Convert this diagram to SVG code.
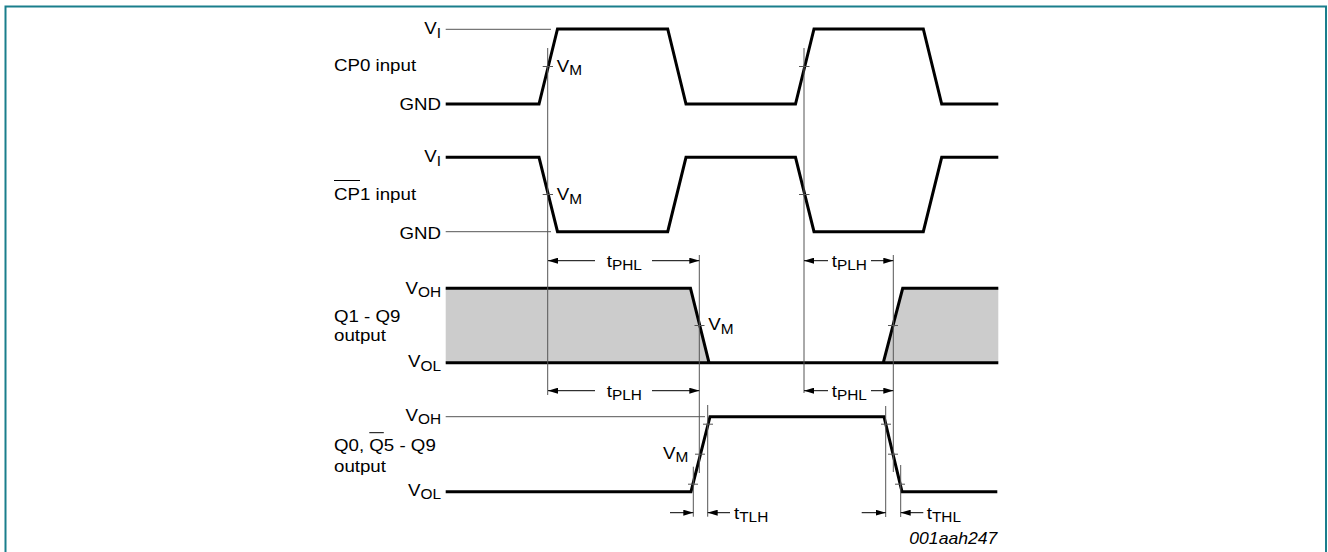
<svg xmlns="http://www.w3.org/2000/svg" width="1328" height="552" viewBox="0 0 1328 552">
<style>
.frame{fill:#fff;stroke:#1a7e8c;stroke-width:2}
.w{fill:none;stroke:#000;stroke-width:3;stroke-linejoin:miter}
.thin{fill:none;stroke:#555;stroke-width:1}
.fill{fill:#cccccc;stroke:none}
.t{font-family:"Liberation Sans",Arial,sans-serif;font-size:17px;fill:#000}
.s{font-size:14px}
.it{font-style:italic;font-size:16px}
.arr{fill:none;stroke:#000;stroke-width:1}
</style>
<defs>
<marker id="ah" markerWidth="10" markerHeight="6" refX="10" refY="3" orient="auto" markerUnits="userSpaceOnUse"><path d="M0,0 L10,3 L0,6 z" fill="#000"/></marker>
</defs>
<rect class="frame" x="5.5" y="6.5" width="1320.5" height="560"/>

<g id="cp0">
<path class="thin" d="M445.7,29.3 H551"/>
<path class="w" d="M445.7,104 H539 L557.5,29 H667.7 L686,104 H795.5 L814,29 H923.3 L941.7,104 H998.3"/>
<path class="thin" d="M542.7,66.5 H553 M799,66.5 H809.5"/>
<text class="t" text-anchor="end" transform="translate(441,34) scale(1.1,1)">V<tspan class="s" dy="3.5">I</tspan></text>
<text class="t" transform="translate(334,71) scale(1.1,1)">CP0 input</text>
<text class="t" text-anchor="end" transform="translate(441,110) scale(1.1,1)">GND</text>
<text class="t" transform="translate(556.7,71.5) scale(1.1,1)">V<tspan class="s" dy="3.5">M</tspan></text>
</g>

<g id="cp1">
<path class="thin" d="M445.7,231.7 H551"/>
<path class="w" d="M445.7,157.3 H539 L557.5,231.7 H667.7 L686,157.3 H795.5 L814,231.7 H923.3 L941.7,157.3 H998.3"/>
<path class="thin" d="M542.7,194.5 H553 M799,194.5 H809.5"/>
<text class="t" text-anchor="end" transform="translate(441,162) scale(1.1,1)">V<tspan class="s" dy="3.5">I</tspan></text>
<text class="t" transform="translate(334,199.5) scale(1.1,1)">CP1 input</text>
<path class="arr" d="M334,180.5 H360"/>
<text class="t" text-anchor="end" transform="translate(441,238.5) scale(1.1,1)">GND</text>
<text class="t" transform="translate(556.7,200) scale(1.1,1)">V<tspan class="s" dy="3.5">M</tspan></text>
</g>

<g id="q1q9">
<path class="fill" d="M445.7,288.3 H690.5 L709,362.7 H445.7 Z M902.7,288.3 H998.3 V362.7 H883.3 Z"/>
<path class="w" d="M445.7,288.3 H690.5 L709,362.7 M445.7,362.7 H998.3 M883.3,362.7 L902.7,288.3 H998.3"/>
<path class="thin" d="M694.5,325.5 H704.5 M888,325.5 H898"/>
<text class="t" text-anchor="end" transform="translate(441,293.5) scale(1.1,1)">V<tspan class="s" dy="3.5">OH</tspan></text>
<text class="t" transform="translate(334,321.5) scale(1.1,1)">Q1 - Q9</text>
<text class="t" transform="translate(334,340.5) scale(1.1,1)">output</text>
<text class="t" text-anchor="end" transform="translate(441,367) scale(1.1,1)">V<tspan class="s" dy="3.5">OL</tspan></text>
<text class="t" transform="translate(708.3,330) scale(1.1,1)">V<tspan class="s" dy="3.5">M</tspan></text>
</g>

<g id="q0q5">
<path class="thin" d="M445.7,416.7 H705"/>
<path class="w" d="M445.7,491.7 H691 L710,416.7 H884 L902,491.7 H997.3"/>
<path class="thin" d="M703,424.2 H713 M695,454.2 H705 M688,484.2 H698 M881,424.2 H891 M888,454.2 H898 M895,484.2 H905"/>
<text class="t" text-anchor="end" transform="translate(441,420.5) scale(1.1,1)">V<tspan class="s" dy="3.5">OH</tspan></text>
<text class="t" transform="translate(334,451) scale(1.1,1)">Q0, Q5 - Q9</text>
<path class="arr" d="M369.3,432.7 H383.8"/>
<text class="t" transform="translate(334,472) scale(1.1,1)">output</text>
<text class="t" text-anchor="end" transform="translate(441,495.5) scale(1.1,1)">V<tspan class="s" dy="3.5">OL</tspan></text>
<text class="t" text-anchor="end" transform="translate(688.3,458.5) scale(1.1,1)">V<tspan class="s" dy="3.5">M</tspan></text>
</g>

<g id="connectors">
<path class="thin" d="M547.7,48 V395 M804,48 V393 M699.3,255 V473 M893.3,255 V472 M693.3,466.7 V516.7 M707.7,405 V516.7 M885.7,406 V517 M900.7,465 V517"/>
<line class="arr" x1="595" y1="260.7" x2="548" y2="260.7" marker-end="url(#ah)"/>
<line class="arr" x1="652" y1="260.7" x2="699.3" y2="260.7" marker-end="url(#ah)"/>
<line class="arr" x1="595" y1="390.7" x2="548" y2="390.7" marker-end="url(#ah)"/>
<line class="arr" x1="652" y1="390.7" x2="699.3" y2="390.7" marker-end="url(#ah)"/>
<line class="arr" x1="828" y1="260.7" x2="804" y2="260.7" marker-end="url(#ah)"/>
<line class="arr" x1="871" y1="260.7" x2="893.3" y2="260.7" marker-end="url(#ah)"/>
<line class="arr" x1="828" y1="390.7" x2="804" y2="390.7" marker-end="url(#ah)"/>
<line class="arr" x1="871" y1="390.7" x2="893.3" y2="390.7" marker-end="url(#ah)"/>
<line class="arr" x1="670" y1="512.7" x2="693.3" y2="512.7" marker-end="url(#ah)"/>
<line class="arr" x1="730" y1="512.7" x2="707.7" y2="512.7" marker-end="url(#ah)"/>
<line class="arr" x1="861.7" y1="512.7" x2="885.7" y2="512.7" marker-end="url(#ah)"/>
<line class="arr" x1="923.3" y1="512.7" x2="900.7" y2="512.7" marker-end="url(#ah)"/>
<text class="t" transform="translate(606.7,267) scale(1.1,1)">t<tspan class="s" dy="3">PHL</tspan></text>
<text class="t" transform="translate(606.7,396.5) scale(1.1,1)">t<tspan class="s" dy="3">PLH</tspan></text>
<text class="t" transform="translate(831.7,267) scale(1.1,1)">t<tspan class="s" dy="3">PLH</tspan></text>
<text class="t" transform="translate(831.7,396.5) scale(1.1,1)">t<tspan class="s" dy="3">PHL</tspan></text>
<text class="t" transform="translate(734,518.5) scale(1.1,1)">t<tspan class="s" dy="3">TLH</tspan></text>
<text class="t" transform="translate(926.7,518.5) scale(1.1,1)">t<tspan class="s" dy="3">THL</tspan></text>
</g>
<text class="t it" text-anchor="end" transform="translate(997.3,544) scale(1.1,1)">001aah247</text>
</svg>
